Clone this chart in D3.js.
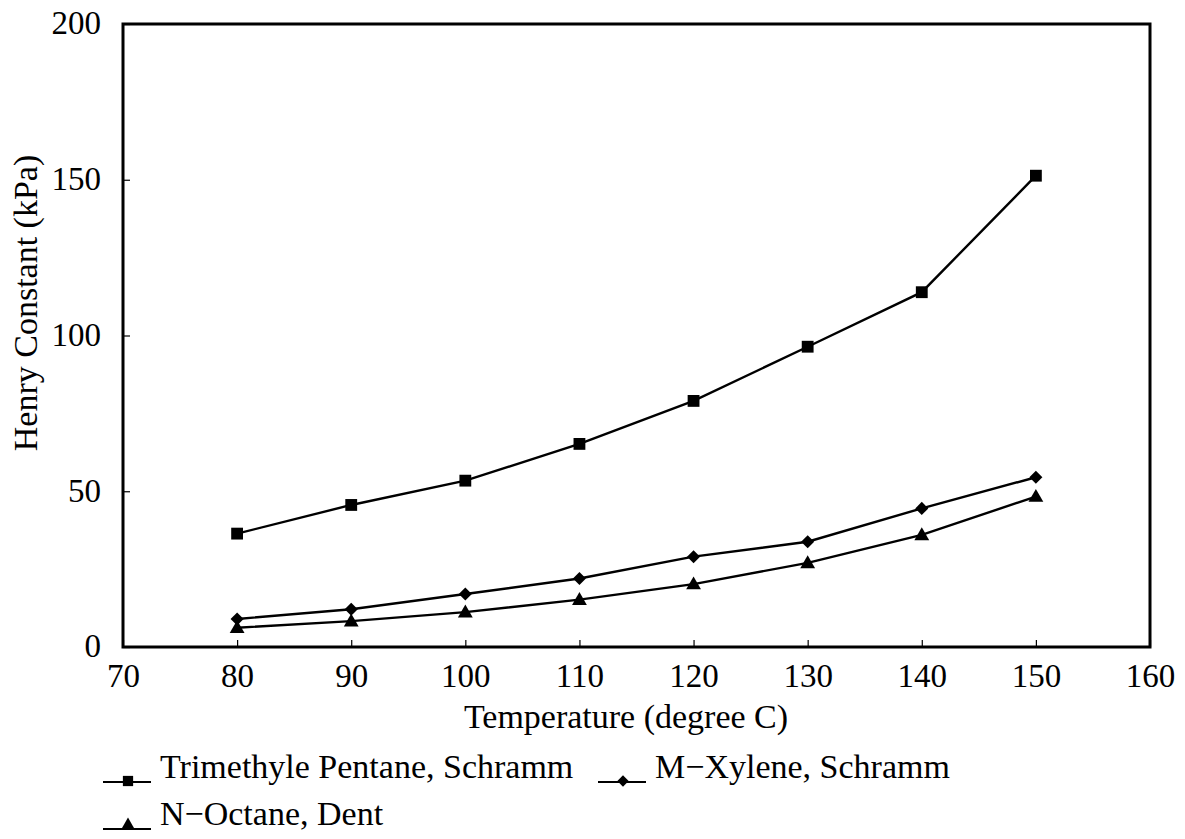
<!DOCTYPE html>
<html><head><meta charset="utf-8">
<script src="https://cdn.jsdelivr.net/npm/d3@7"></script>
<style>body{margin:0;background:#fff}svg{display:block}text{font-family:"Liberation Serif","Times New Roman",serif;fill:#000}</style>
</head><body><svg id="c" width="1185" height="839"></svg>
<script>
const temperatures = [80, 90, 100, 110, 120, 130, 140, 150];
const trimethylPentane = [36.4, 45.6, 53.4, 65.2, 79.0, 96.4, 113.9, 151.3];
const mXylene = [9.0, 12.1, 17.0, 22.0, 29.0, 33.8, 44.5, 54.5];
const nOctane = [6.2, 8.3, 11.2, 15.2, 20.2, 27.0, 36.0, 48.3];
const xTicks = [70, 80, 90, 100, 110, 120, 130, 140, 150, 160];
const yTicks = [0, 50, 100, 150, 200];
const seriesNames = ["Trimethyle Pentane, Schramm", "M\u2212Xylene, Schramm", "N\u2212Octane, Dent"];

const svg = d3.select("#c");
const L = 123, R = 1150, T = 24, B = 647;
const x = d3.scaleLinear().domain([70, 160]).range([L, R]);
const y = d3.scaleLinear().domain([0, 200]).range([B, T]);
const FS = 33;
const TFS = 34;

// ticks (inward)
const xa = svg.append("g").attr("transform", `translate(0,${B})`)
  .call(d3.axisBottom(x).tickValues(xTicks).tickSize(-7).tickPadding(17).tickFormat(d3.format("d")));
xa.select(".domain").remove();
xa.selectAll("line").attr("stroke", "#000").attr("stroke-width", 1.2);
xa.selectAll("text").attr("font-size", FS).attr("font-family", "Liberation Serif").attr("fill", "#000");

const ya = svg.append("g").attr("transform", `translate(${L},0)`)
  .call(d3.axisLeft(y).tickValues(yTicks).tickSize(-7).tickPadding(22).tickFormat(d3.format("d")));
ya.select(".domain").remove();
ya.selectAll("line").attr("stroke", "#000").attr("stroke-width", 1.2);
ya.selectAll("text").attr("font-size", FS).attr("font-family", "Liberation Serif").attr("fill", "#000").attr("dy", "0.3em");

// frame
svg.append("rect").attr("x", L).attr("y", T).attr("width", R - L).attr("height", B - T)
  .attr("fill", "none").attr("stroke", "#000").attr("stroke-width", 3);

const allSeries = [trimethylPentane, mXylene, nOctane];
const symbolFns = [
  s => d3.symbol().type(d3.symbolSquare).size(140 * s)(),
  s => d3.symbol().type(d3.symbolSquare).size(85 * s)(),
  s => d3.symbol().type(d3.symbolTriangle).size(95 * s)()
];
const symRot = [0, 45, 0];
const line = d3.line().x((d, i) => x(temperatures[i])).y(d => y(d));
allSeries.forEach((s, k) => {
  svg.append("path").attr("d", line(s)).attr("fill", "none").attr("stroke", "#000").attr("stroke-width", 2.4);
  svg.selectAll(null).data(s).enter().append("path")
    .attr("transform", (d, i) => `translate(${x(temperatures[i])},${y(d) + (k === 2 ? 1 : 0)}) rotate(${symRot[k]})`)
    .attr("d", symbolFns[k](1))
    .attr("fill", "#000");
});

// axis titles
svg.append("text").attr("x", 626).attr("y", 728).attr("text-anchor", "middle").attr("font-size", TFS)
  .text("Temperature (degree C)");
svg.append("text").attr("transform", "translate(37,303) rotate(-90)").attr("text-anchor", "middle").attr("font-size", TFS)
  .text("Henry Constant (kPa)");

// legend
const legendPos = [[103, 778], [598, 778], [103, 825]];
seriesNames.forEach((name, k) => {
  const [lx, ly] = legendPos[k];
  svg.append("line").attr("x1", lx).attr("x2", lx + 48).attr("y1", ly + 4).attr("y2", ly + 4)
    .attr("stroke", "#000").attr("stroke-width", 2);
  svg.append("path").attr("transform", `translate(${lx + 25},${ly + (k === 2 ? 0 : 3)}) rotate(${symRot[k]})`)
    .attr("d", symbolFns[k](0.75)).attr("fill", "#000");
  svg.append("text").attr("x", lx + 57).attr("y", ly).attr("font-size", FS + 1).text(name);
});
</script></body></html>
